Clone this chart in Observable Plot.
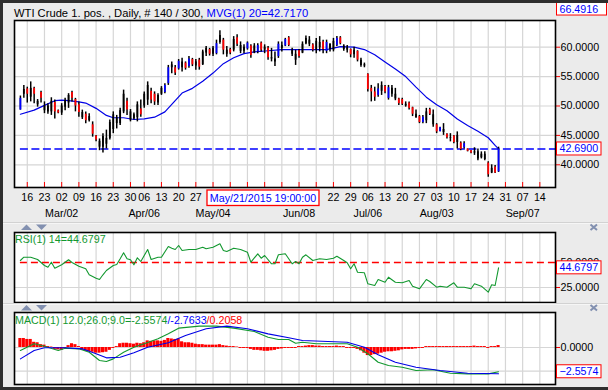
<!DOCTYPE html>
<html><head><meta charset="utf-8">
<script src="https://cdn.jsdelivr.net/npm/d3@7"></script>
<script src="https://cdn.jsdelivr.net/npm/@observablehq/plot@0.6"></script>
<style>
html,body{margin:0;padding:0;background:#ebebeb;}
#root{position:relative;width:608px;height:390px;overflow:hidden;background:#ebebeb;}
#root svg{position:absolute;left:0;}
</style></head><body><div id="root"></div>
<script>
// ---------------- DATA ----------------
const chartTitle = "WTI Crude 1. pos. , Daily, # 140 / 300, ";
const maTitle = "MVG(1) 20=42.7170";
const rsiTitle = "RSI(1) 14=44.6797";
const macdTitle = ["MACD(1) 12.0;26.0;9.0=-2.5574", "/-2.7633", "/0.2058"];
const firstDate = "2015-02-12", lastCalDate = "2015-09-19";
const holidays = ["2015-04-03"];
const weekTicks = ["2015-02-16","2015-02-23","2015-03-02","2015-03-09","2015-03-16","2015-03-23","2015-03-30",
  "2015-04-06","2015-04-13","2015-04-20","2015-04-27","2015-05-04","2015-05-11","2015-05-18","2015-05-25",
  "2015-06-01","2015-06-08","2015-06-15","2015-06-22","2015-06-29","2015-07-06","2015-07-13","2015-07-20",
  "2015-07-27","2015-08-03","2015-08-10","2015-08-17","2015-08-24","2015-08-31","2015-09-07","2015-09-14"];
const monthTicks = ["2015-03-02","2015-04-06","2015-05-04","2015-06-08","2015-07-06","2015-08-03","2015-09-07"];
const cursorDate = "2015-05-21", cursorHour = 19, cursorLabel = "May/21/2015 19:00:00";
const highLabel = 66.4916;
const lastMa = 42.7170, lastRsi = 44.6797, lastMacd = -2.5574;
const priceTicks = [40, 45, 50, 55, 60];
const rsiTicks = [25, 50];
const macdTicks = [0, -2.5];

const barHigh = [51.7,53.5,53.2,54.1,53.2,51.1,52.5,50.7,50.4,51.4,
 51.0,49.3,50.4,51.3,52.1,52.5,51.3,50.7,49.3,49.0,
 48.7,47.3,45.0,44.4,45.3,45.9,47.6,49.0,48.4,49.6,
 52.7,51.3,49.4,48.8,50.7,51.0,52.4,54.1,53.0,52.4,
 52.1,53.3,53.8,56.9,57.5,56.9,57.9,58.1,57.5,58.4,
 58.1,57.9,58.1,59.5,60.1,59.8,60.1,61.2,62.8,61.5,
 60.1,59.8,61.8,62.1,60.9,60.4,60.9,60.4,60.6,60.6,
 60.9,60.4,60.1,59.8,59.2,60.9,60.9,61.5,61.8,59.8,
 59.5,59.6,60.9,61.9,61.8,60.6,61.5,61.8,61.2,61.2,
 60.6,61.5,61.8,61.8,60.4,60.3,59.7,60.0,59.4,58.1,
 57.3,55.5,53.5,53.2,53.8,54.1,53.5,53.5,53.5,53.0,
 51.3,51.3,50.7,50.7,49.8,49.3,48.4,48.4,49.6,49.6,
 49.3,47.0,46.4,47.0,45.3,45.3,45.0,45.6,43.9,43.9,
 42.7,42.4,42.9,42.7,42.2,42.2,40.5,40.0,39.9,43.0];
const barLow = [49.3,51.3,50.5,50.7,50.4,49.8,50.5,48.7,48.6,48.4,
 47.8,48.7,48.4,49.2,49.6,50.7,49.0,48.1,47.7,47.0,
 47.3,44.7,43.9,42.4,42.0,42.7,44.2,45.3,46.1,46.7,
 48.7,48.4,47.3,47.6,47.3,48.1,49.6,50.1,50.4,50.1,
 50.1,51.8,52.1,53.5,55.5,55.2,56.1,55.8,56.1,56.4,
 56.7,56.1,56.1,56.9,58.4,58.5,58.4,58.7,60.5,58.7,
 58.3,58.7,59.2,60.1,58.9,58.9,59.5,58.1,58.9,58.9,
 59.2,58.9,57.8,57.5,56.7,58.1,59.2,60.1,60.1,58.4,
 56.9,58.1,58.9,60.4,60.1,59.2,58.9,59.2,58.9,58.9,
 59.2,59.2,60.1,60.4,59.3,59.0,58.2,58.1,57.5,56.6,
 56.5,52.4,50.7,50.8,51.5,51.8,52.1,51.0,51.5,50.9,
 50.1,50.1,49.8,49.3,48.2,47.9,47.0,47.0,47.0,48.4,
 46.4,45.3,45.6,45.0,44.4,43.9,43.6,42.7,42.4,42.7,
 42.2,41.9,41.6,40.7,41.0,40.7,37.9,38.5,38.5,38.7];
const barOpen = [49.3,52.0,52.9,51.5,53.0,50.8,52.3,50.0,49.0,49.0,
 50.6,49.2,48.8,49.8,50.5,52.3,51.1,50.2,48.9,48.6,
 47.5,46.8,44.9,44.0,43.0,44.5,44.5,46.0,48.0,47.0,
 49.0,50.8,49.0,47.8,48.0,49.5,50.0,51.0,52.5,52.0,
 50.5,52.0,52.3,53.8,56.5,56.5,56.3,57.5,57.3,56.7,
 57.9,56.8,57.8,57.0,59.0,59.6,58.8,58.9,60.8,61.2,
 59.5,59.6,59.5,61.6,60.3,59.3,59.7,60.2,59.0,59.2,
 60.7,59.5,59.8,58.2,58.0,58.4,60.3,60.2,61.6,59.5,
 58.8,59.4,59.0,60.6,61.2,60.4,59.5,60.8,60.9,59.3,
 60.5,59.5,60.3,61.6,60.2,59.5,59.6,58.7,59.3,57.8,
 56.8,55.4,53.0,52.4,51.8,52.5,53.3,51.3,53.0,52.0,
 51.2,51.1,50.3,50.5,49.7,48.6,48.2,47.2,47.5,49.4,
 48.5,46.8,45.6,46.0,45.2,44.6,44.9,43.8,43.7,42.9,
 42.7,42.4,42.0,42.2,41.2,41.8,40.3,38.6,39.6,38.8];
const barClose = [51.3,52.8,52.0,53.0,52.0,50.2,51.3,49.2,50.0,50.8,
 49.0,48.8,50.0,50.9,51.8,51.3,50.0,48.9,48.0,47.5,
 48.2,45.2,44.2,43.0,44.8,43.5,47.2,48.5,47.0,49.2,
 52.0,49.3,47.6,48.5,50.2,48.5,52.0,53.5,51.0,50.7,
 51.8,53.0,53.5,56.5,57.0,55.6,57.6,56.5,56.4,58.0,
 57.0,57.5,56.6,59.2,59.8,58.8,59.8,60.6,62.0,59.5,
 58.8,59.0,61.3,60.5,59.3,60.0,60.7,58.6,60.2,60.3,
 59.5,60.0,58.2,58.0,57.5,60.5,59.8,61.3,60.3,58.8,
 57.8,58.4,60.5,61.5,60.5,59.5,61.0,59.9,59.6,60.8,
 59.6,61.0,61.5,60.6,59.6,59.9,58.7,59.5,57.8,56.9,
 57.0,52.8,52.4,51.5,52.9,53.5,52.4,53.1,52.0,51.2,
 50.4,50.3,50.0,49.6,48.6,48.0,47.2,48.1,49.0,48.6,
 46.8,45.6,46.3,45.5,44.6,44.5,43.8,45.0,42.6,43.6,
 42.3,42.0,42.2,41.0,41.8,40.9,38.3,39.4,38.6,42.69];
// u = blue body, d = red body, n = plain black bar
const barDir = ("undndndnnn"+"ddnnndddnd"+"nddnnnnnnn"+"ndnnndnndd"+"nnuundundu"+
  "dndnndnund"+"ndndnnudnu"+"dndnnunudn"+"ndnnndnndu"+"nnudnndndn"+
  "ndddundunn"+"ddnddndund"+"ndundndndu"+"ddnnnndndu").split("");

const maIdx = [0,4,7,10,12,14,17,19,22,25,27,30,33,36,39,42,45,47,50,53,56,59,62,65,68,72,76,80,85,89,93,97,100,103,106,109,112,115,118,121,124,127,130,133,136,138,139];
const maVal = [48.6,49.3,50.1,50.9,51.0,50.9,50.7,50.5,49.6,48.4,48.0,48.0,47.7,47.8,48.1,49.0,50.9,52.2,53.0,54.2,55.6,57.2,58.2,58.9,59.2,59.4,59.6,59.6,59.6,59.6,60.1,60.0,59.6,58.7,57.5,56.3,55.0,53.2,51.5,50.2,49.2,47.8,46.7,45.7,44.6,43.3,42.72];

const rsiIdx = [0,1,3,5,6,7,8,9,10,12,14,15,17,19,20,22,23,24,25,27,28,29,30,31,32,33,34,35,37,38,40,41,43,44,45,46,47,49,51,53,54,56,58,59,60,62,64,66,67,69,70,71,73,74,75,77,79,80,81,82,83,85,87,89,91,92,94,95,96,97,98,100,101,103,104,106,107,109,111,113,114,116,118,119,121,122,124,126,127,129,131,132,134,136,137,138,139];
const rsiVal = [52,55.3,55.3,53,50,47,45.3,50.3,44.3,47.7,52.7,50,46.3,43.7,37.7,34.3,33,37.7,42,47,48,53.7,59.7,53.7,52.7,47.7,54.7,51,63,53,55.3,55.3,66,64.3,63,67,62,63,63,65.3,63.7,65.3,68.7,62,61,64.3,63,60.3,50.3,58.7,54.3,57,48.7,48.7,57.7,58.7,48.7,51,48.7,55.3,57.7,52,53.7,53,54.3,56.3,52,49.7,43.7,48.7,40.3,39.7,28.7,27,33,30.3,35.3,30.3,29.7,32,26.3,23.7,33,31,25.3,26.3,25.3,29.7,25.3,25.3,23.7,28.7,26.3,20.3,27.7,27,44.6797];

const macdIdx = [0,4,7,11,13,17,20,23,25,27,30,33,36,40,43,46,52,57,62,68,72,75,78,80,82,86,95,98,101,104,107,111,115,120,125,130,136,139];
const macdVal = [-0.32,0.39,0.14,-0.32,-0.07,-0.14,-0.5,-1.37,-1.48,-1.2,-0.5,0.03,0.39,0.92,1.44,2.04,2.25,2.25,2.04,1.69,1.09,0.84,0.84,0.45,0.56,0.39,0.39,0.03,-0.66,-1.55,-1.9,-2.08,-2.43,-2.35,-2.71,-2.78,-2.78,-2.5574];
const sigIdx = [0,4,7,13,18,22,25,29,33,37,43,48,54,60,66,72,78,82,95,100,104,109,115,122,130,139];
const sigVal = [-1.2,-0.32,-0.03,-0.03,-0.14,-0.66,-1.09,-1.02,-0.56,0.03,0.50,1.27,1.97,2.25,1.97,1.44,1.02,0.74,0.56,0.03,-0.77,-1.55,-2.08,-2.43,-2.71,-2.7633];
const histVal = [0.95,0.95,0.85,0.85,0.55,0.5,0.3,0.25,0.1,0.05,
 -0.2,-0.25,-0.3,-0.1,0.2,0.4,0.3,0.1,-0.3,-0.4,
 -0.45,-0.5,-0.6,-0.6,-0.55,-0.5,-0.3,-0.1,0.1,0.4,
 0.45,0.45,0.4,0.35,0.45,0.4,0.5,0.7,0.65,0.7,
 0.7,0.65,0.75,0.95,0.9,0.85,0.9,0.6,0.5,0.5,
 0.45,0.35,0.3,0.3,0.25,0.25,0.25,0.25,0.3,0.2,
 0.15,0.1,0.1,0.05,-0.1,-0.1,-0.1,-0.2,-0.3,-0.3,
 -0.35,-0.4,-0.4,-0.35,-0.3,-0.2,-0.15,-0.1,-0.1,-0.1,
 -0.1,0.1,0.1,0.15,0.2,0.2,0.15,0.15,0.1,0.1,
 0.1,0.1,0.15,0.1,0.1,-0.1,-0.1,-0.1,-0.2,-0.35,
 -0.6,-0.85,-0.85,-0.75,-0.7,-0.6,-0.5,-0.45,-0.45,-0.4,
 -0.35,-0.25,-0.2,-0.2,-0.2,-0.15,-0.1,-0.1,0.1,0.1,
 0.1,0.1,0.1,0.1,0.1,0.1,0.1,0.1,0.1,0.1,
 0.1,0.1,0.15,0.1,0.1,0.1,-0.1,0.1,0.1,0.2058];

// ---------------- BUILD ----------------
const font = "'Liberation Sans', Arial, sans-serif";
const fs = 10.7;
const BLUE = "#0000ff", RED = "#ff0000", GREEN = "#12982f", GRID = "#d6d6d6", ARROW = "#8290b0";
const fmtD = d3.utcFormat("%Y-%m-%d");
const calendar = d3.utcDays(new Date(firstDate), new Date(lastCalDate))
  .filter(d => d.getUTCDay() !== 0 && d.getUTCDay() !== 6 && !holidays.includes(fmtD(d)));
const idxOf = s => calendar.findIndex(d => fmtD(d) === s);
const tickIdx = weekTicks.map(idxOf);
const monthIdx = monthTicks.map(idxOf);
const xDomain = [-1.715, 155.55];
const xPix = d3.scaleLinear(xDomain, [14, 555]);
// cursor date box span; day labels hidden beneath it are not drawn
const cursorX = xPix(idxOf(cursorDate) + cursorHour / 24);
const boxL = cursorX - 53, boxW = 112;
const dayLabel = new Map(weekTicks.map((s, k) => {
  const px = xPix(tickIdx[k]);
  return [tickIdx[k], (px > boxL - 7 && px < boxL + boxW + 7) ? "" : s.slice(8)];
}));
const monLabel = new Map(monthTicks.map((s, k) => [monthIdx[k], d3.utcFormat("%b/%d")(new Date(s))]));
const lastClose = barClose[barClose.length - 1];

const bars = barHigh.map((h, i) => ({i, hi: h, lo: barLow[i], op: barOpen[i], cl: barClose[i], dir: barDir[i]}));
const ma = maIdx.map((i, k) => ({i, v: maVal[k]}));
const rsi = rsiIdx.map((i, k) => ({i, v: rsiVal[k]}));
const macd = macdIdx.map((i, k) => ({i, v: macdVal[k]}));
const sig = sigIdx.map((i, k) => ({i, v: sigVal[k]}));
const hist = histVal.map((v, i) => ({i, v}));
const bodyColor = {u: BLUE, d: RED, n: "#000"};

const common = {
  width: 608, marginLeft: 14, marginRight: 53,
  style: {fontFamily: font, fontSize: fs + "px", background: "transparent", overflow: "visible"},
  color: {type: "identity"}
};
const root = document.getElementById("root");

const main = Plot.plot({
  ...common, height: 222, marginTop: 20, marginBottom: 35,
  x: {type: "linear", domain: xDomain, label: null},
  y: {domain: [36.14, 64.54], label: null},
  marks: [
    Plot.frame({fill: "#fff"}),
    Plot.ruleX(tickIdx, {stroke: GRID, strokeWidth: 1.2}),
    Plot.ruleY(priceTicks, {stroke: GRID, strokeWidth: 1.2}),
    Plot.line(ma, {x: "i", y: "v", stroke: "#0000e6", strokeWidth: 1.2}),
    Plot.ruleY([lastClose], {x1: 0, x2: xDomain[1], stroke: BLUE, strokeWidth: 1.3, strokeDasharray: "8,3.5"}),
    Plot.ruleX(bars, {x: "i", y1: "lo", y2: "hi", stroke: "#000", strokeWidth: 1.5}),
    Plot.ruleX(bars, {x: "i", y1: "op", y2: "cl", stroke: d => bodyColor[d.dir], strokeWidth: 1.8}),
    Plot.ruleX(tickIdx, {stroke: RED, insetTop: 162}),
    Plot.axisX({ticks: tickIdx, tickFormat: i => dayLabel.get(i), tickSize: 0, tickPadding: 6, label: null, fontSize: fs, fill: "#000"}),
    Plot.axisX({ticks: monthIdx, tickFormat: i => monLabel.get(i), tickSize: 0, tickPadding: 21.5, label: null, fontSize: fs, fill: "#000"}),
    Plot.axisY({anchor: "right", ticks: priceTicks, tickFormat: d3.format(".4f"), tickSize: 4, tickPadding: 1, stroke: RED, fill: "#000", label: null, fontSize: fs}),
    Plot.frame({stroke: "#000", strokeWidth: 1.6})
  ]
});
main.style.top = "0px";
root.appendChild(main);

const RSI_TOP = 230;
const rsiPlot = Plot.plot({
  ...common, height: 74, marginTop: 2, marginBottom: 2,
  x: {type: "linear", domain: xDomain, axis: null},
  y: {domain: [10, 80], label: null},
  marks: [
    Plot.frame({fill: "#fff"}),
    Plot.ruleX(tickIdx, {stroke: GRID, strokeWidth: 1.2}),
    Plot.ruleY([25], {stroke: GRID, strokeWidth: 1.2}),
    Plot.ruleY([50], {x1: 0, x2: xDomain[1], stroke: RED, strokeWidth: 1.3, strokeDasharray: "7,4"}),
    Plot.line(rsi, {x: "i", y: "v", stroke: GREEN, strokeWidth: 1.1}),
    Plot.axisY({anchor: "right", ticks: rsiTicks, tickFormat: d3.format(".4f"), tickSize: 4, tickPadding: 1, stroke: RED, fill: "#000", label: null, fontSize: fs}),
    Plot.frame({stroke: "#000", strokeWidth: 1.6})
  ]
});
rsiPlot.style.top = RSI_TOP + "px";
root.appendChild(rsiPlot);

const MACD_TOP = 310;
const macdPlot = Plot.plot({
  ...common, height: 76, marginTop: 2, marginBottom: 2,
  x: {type: "linear", domain: xDomain, axis: null},
  y: {domain: [-3.90, 3.69], label: null},
  marks: [
    Plot.frame({fill: "#fff"}),
    Plot.ruleX(tickIdx, {stroke: GRID, strokeWidth: 1.2}),
    Plot.ruleY(macdTicks, {stroke: GRID, strokeWidth: 1.2}),
    Plot.rect(hist, {x1: d => d.i - 0.45, x2: d => d.i + 0.45, y1: 0, y2: "v", fill: RED}),
    Plot.line(macd, {x: "i", y: "v", stroke: GREEN, strokeWidth: 1.1}),
    Plot.line(sig, {x: "i", y: "v", stroke: "#0000e6", strokeWidth: 1.1}),
    Plot.axisY({anchor: "right", ticks: macdTicks, tickFormat: d3.format(".4f"), tickSize: 4, tickPadding: 1, stroke: RED, fill: "#000", label: null, fontSize: fs}),
    Plot.frame({stroke: "#000", strokeWidth: 1.6})
  ]
});
macdPlot.style.top = MACD_TOP + "px";
root.appendChild(macdPlot);

// ---------------- OVERLAY (titles, value boxes, decorations) ----------------
const ov = d3.create("svg").attr("width", 608).attr("height", 390)
  .style("top", "0px").style("font-family", font).style("font-size", fs + "px").style("white-space", "pre");

// window border
ov.append("rect").attr("x", 0).attr("y", 0).attr("width", 3).attr("height", 390).attr("fill", "#2e2e2e");
ov.append("rect").attr("x", 0).attr("y", 387).attr("width", 608).attr("height", 3).attr("fill", "#2e2e2e");

// panel separators
for (const y of [222.5, 303.5]) {
  ov.append("line").attr("x1", 3).attr("x2", 608).attr("y1", y).attr("y2", y).attr("stroke", "#d2d2d2");
  ov.append("line").attr("x1", 3).attr("x2", 608).attr("y1", y + 1).attr("y2", y + 1).attr("stroke", "#f6f6f6");
}
for (const y of [224.5, 305]) {
  ov.append("path").attr("d", `M21,${y + 5.5}L32,${y + 5.5}L26.5,${y}Z`).attr("fill", ARROW);
  ov.append("path").attr("d", `M36,${y}L47,${y}L41.5,${y + 5.5}Z`).attr("fill", ARROW);
  ov.append("path").attr("d", `M590.5,${y}L597,${y + 5.5}M597,${y}L590.5,${y + 5.5}`).attr("stroke", ARROW).attr("stroke-width", 2);
}

// titles
const t = ov.append("text").attr("x", 14).attr("y", 17.3).style("font-size", "11.2px");
t.append("tspan").attr("fill", "#000").text(chartTitle);
t.append("tspan").attr("fill", BLUE).text(maTitle);
ov.append("text").attr("x", 15).attr("y", 242.5).attr("fill", GREEN).text(rsiTitle);
const mt = ov.append("text").attr("x", 15).attr("y", 324);
mt.append("tspan").attr("fill", GREEN).text(macdTitle[0]);
mt.append("tspan").attr("fill", BLUE).text(macdTitle[1]);
mt.append("tspan").attr("fill", RED).text(macdTitle[2]);

// value boxes, placed through each panel's y scale
function vbox(value, top, plot, w = 44.5) {
  const cy = top + plot.scale("y").apply(value);
  ov.append("rect").attr("x", 556.5).attr("y", cy - 6.5).attr("width", w).attr("height", 13)
    .attr("fill", "#fff").attr("stroke", RED);
  ov.append("text").attr("x", 559.5).attr("y", cy + 4).attr("fill", BLUE).text(d3.format(".4f")(value));
}
vbox(highLabel, 0, main, 50);
vbox(lastClose, 0, main);
vbox(lastRsi, RSI_TOP, rsiPlot);
vbox(lastMacd, MACD_TOP, macdPlot);

// cursor date box on the time axis
ov.append("rect").attr("x", boxL).attr("y", 190).attr("width", boxW).attr("height", 15.5)
  .attr("fill", "#fff").attr("stroke", RED).attr("stroke-width", 1.3);
ov.append("text").attr("x", boxL + boxW / 2).attr("y", 201.5).attr("text-anchor", "middle").attr("fill", BLUE).text(cursorLabel);

// top border drawn over the high-value box
ov.append("rect").attr("x", 0).attr("y", 0).attr("width", 608).attr("height", 3).attr("fill", "#2e2e2e");

root.appendChild(ov.node());
</script></body></html>
